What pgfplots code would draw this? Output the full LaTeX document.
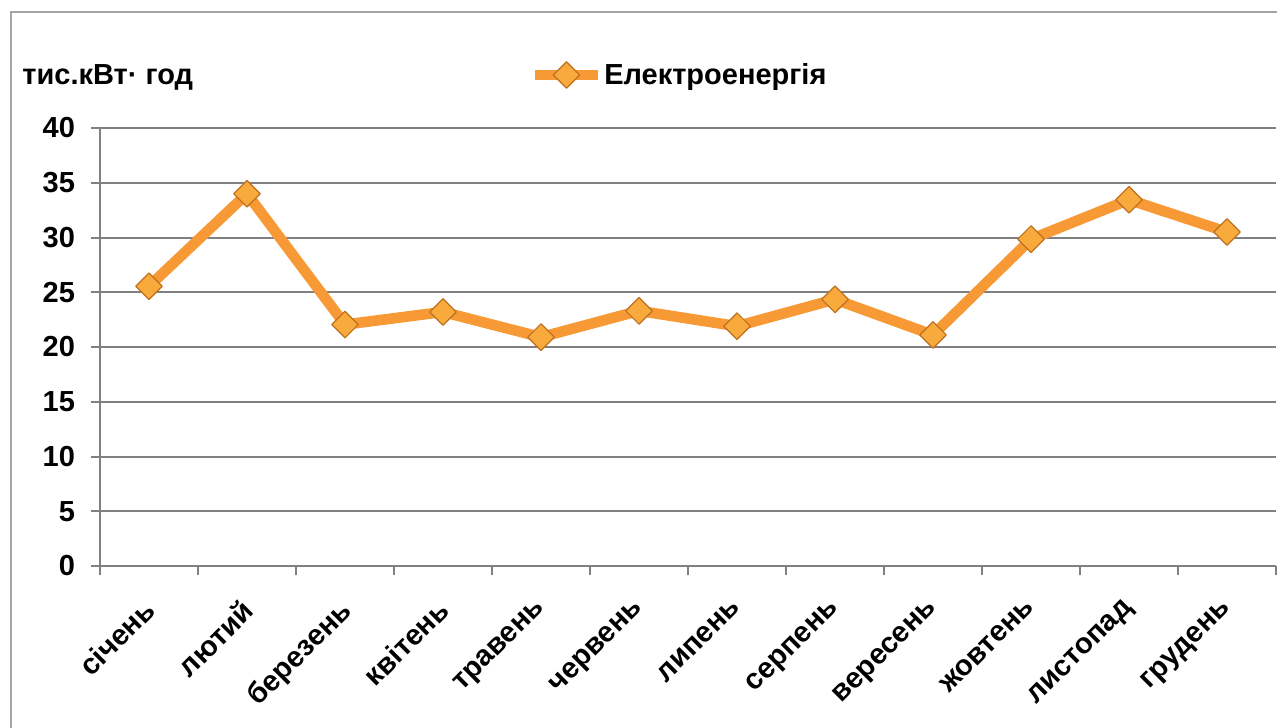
\documentclass[border=0pt]{standalone}
\usepackage{fontspec}
\setmainfont{Liberation Sans}
\usepackage{pgfplots}
\pgfplotsset{compat=1.18}

\definecolor{lineor}{RGB}{247,153,52}
\definecolor{markfill}{RGB}{248,170,60}
\definecolor{markdraw}{RGB}{190,112,30}
\definecolor{gridgray}{RGB}{128,128,128}
\definecolor{framegray}{RGB}{165,165,165}

\newcommand{\lbl}{\fontsize{14.5}{17}\selectfont\bfseries}

\begin{document}
\begin{tikzpicture}
\path[use as bounding box] (0,0) rectangle (638.5pt,363.5pt);
\clip (0,0) rectangle (638.5pt,363.5pt);
% outer chart frame (right and bottom edges fall outside the picture)
\draw[framegray, line width=0.9pt] (5.5pt,-20pt) -- (5.5pt,357.5pt) -- (660pt,357.5pt);

\begin{axis}[
    at={(50pt,80.5pt)}, anchor=south west,
    scale only axis,
    width=588pt, height=219pt,
    xmin=-0.5, xmax=11.5,
    ymin=0, ymax=40,
    ytick={0,5,...,40},
    xtick={-0.5,0.5,...,11.5},
    x tick label as interval,
    xticklabels={січень,лютий,березень,квітень,травень,червень,липень,серпень,вересень,жовтень,листопад,грудень,},
    axis x line=bottom, axis y line=left,
    axis line style={gridgray, line width=1pt, -},
    ymajorgrids=true,
    grid style={gridgray, line width=1pt},
    tick align=outside,
    major tick length=4.5pt,
    tick style={gridgray, line width=1pt},
    /pgf/number format/assume math mode=true,
    tick label style={font=\lbl, text=black},
    yticklabel style={xshift=-4.5pt},
    xticklabel style={xshift=-3.5pt, yshift=-11pt, rotate=45, anchor=north east, inner sep=0pt},
    ylabel={тис.кВт· год},
    ylabel style={at={(axis description cs:-0.0663,1.1164)}, anchor=west, rotate=-90, font=\lbl, inner sep=0pt},
    legend style={at={(axis description cs:0.365,1.121)}, anchor=west, draw=none, fill=none,
        font=\lbl, inner sep=0pt, nodes={inner sep=0.5pt, anchor=west}},
    legend image code/.code={
        \draw[#1, mark repeat=2, mark phase=2] plot coordinates {(0pt,0pt) (15.75pt,0pt) (31.5pt,0pt)};
    },
    clip=false,
]
\addplot[color=lineor, line width=5.3pt, line join=round,
    mark=square*, mark size=4.7pt,
    mark options={rotate=45, fill=markfill, draw=markdraw, line width=0.6pt, solid}]
    coordinates {
    (0,25.55) (1,34.0) (2,22.05) (3,23.2) (4,20.9) (5,23.3)
    (6,21.9) (7,24.35) (8,21.1) (9,29.85) (10,33.45) (11,30.5)
    };
\addlegendentry{Електроенергія}
\end{axis}
\end{tikzpicture}
\end{document}
